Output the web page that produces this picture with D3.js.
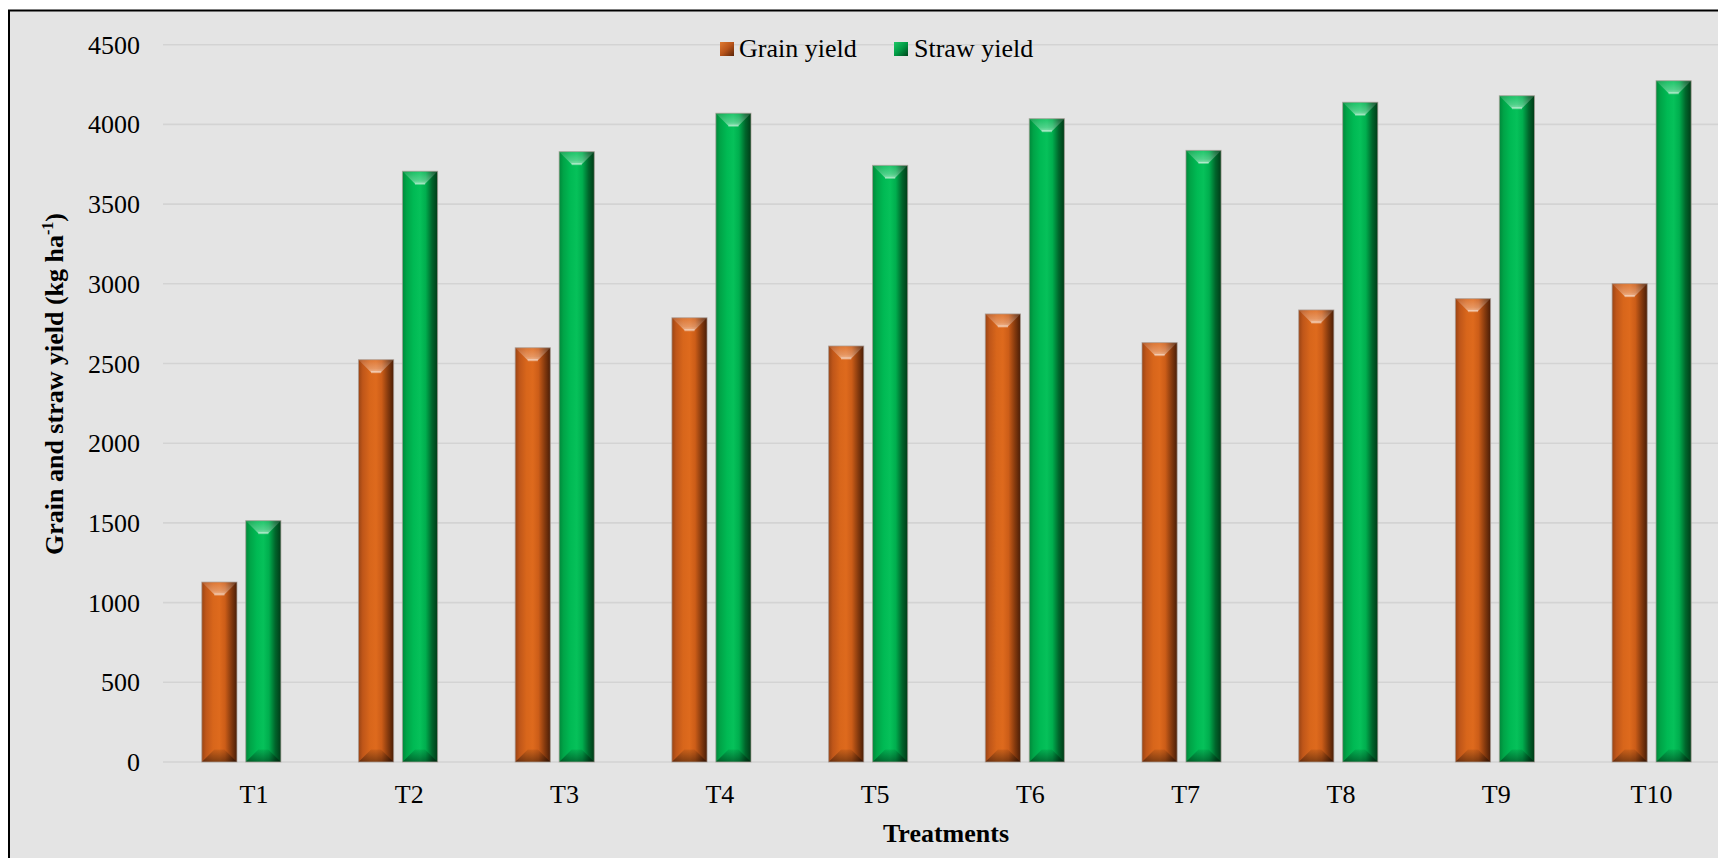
<!DOCTYPE html>
<html>
<head>
<meta charset="utf-8">
<script src="https://cdn.jsdelivr.net/npm/d3@7"></script>
<style>
  html, body { margin: 0; padding: 0; background: #ffffff; }
  svg { display: block; }
  text { font-family: "Liberation Serif", "Times New Roman", serif; fill: #000; }
</style>
</head>
<body>
<svg id="chart" width="1718" height="858"></svg>
<script>
// ---- data ----
const categories = ["T1", "T2", "T3", "T4", "T5", "T6", "T7", "T8", "T9", "T10"];
const seriesNames = ["Grain yield", "Straw yield"];
const grainYield = [1129, 2524, 2599, 2787, 2610, 2811, 2631, 2836, 2907, 3001];
const strawYield = [1514, 3706, 3829, 4070, 3743, 4036, 3837, 4139, 4180, 4274];
const yTicks = [0, 500, 1000, 1500, 2000, 2500, 3000, 3500, 4000, 4500];
const yTitle = "Grain and straw yield (kg ha";
const xTitle = "Treatments";

const svg = d3.select("#chart");
const W = 1718, H = 858;

// frame / background
svg.append("rect").attr("x", 0).attr("y", 0).attr("width", W).attr("height", H).attr("fill", "#ffffff");
svg.append("rect").attr("x", 9).attr("y", 10.5).attr("width", 1800).attr("height", 900)
  .attr("fill", "#e4e4e4").attr("stroke", "#000").attr("stroke-width", 2);

// scales
const plot = { left: 163, right: 1730, top: 44.7, bottom: 762 };
const y = d3.scaleLinear().domain([0, 4500]).range([plot.bottom, plot.top]);
const x = d3.scaleBand().domain(categories).range([plot.left, plot.right]).paddingInner(0).paddingOuter(0);
const bw = x.bandwidth();
const xs = d3.scaleBand().domain(seriesNames).range([bw * 0.2476, bw * 0.7524]).paddingInner(0.2);
const xLabel = d3.scalePoint().domain(categories).range([253.5, 1651]);

// gradients
const defs = svg.append("defs");
function hGrad(id, stops) {
  const g = defs.append("linearGradient").attr("id", id).attr("x1", "0").attr("x2", "1").attr("y1", "0").attr("y2", "0");
  stops.forEach(s => g.append("stop").attr("offset", s[0]).attr("stop-color", s[1]));
}
hGrad("gOrange", [[0, "#9a4414"], [0.12, "#bf5619"], [0.32, "#d8661b"], [0.5, "#de6a1d"], [0.66, "#cc5d18"], [0.84, "#853a0e"], [1, "#4a1d06"]]);
hGrad("gGreen", [[0, "#00883a"], [0.12, "#00a447"], [0.32, "#00ba54"], [0.5, "#06c15a"], [0.66, "#00ae4e"], [0.84, "#00652b"], [1, "#003b17"]]);
function vGrad(id, stops) {
  const g = defs.append("linearGradient").attr("id", id).attr("x1", "0").attr("x2", "0").attr("y1", "0").attr("y2", "1");
  stops.forEach(s => g.append("stop").attr("offset", s[0]).attr("stop-color", s[1][0]).attr("stop-opacity", s[1][1]));
}
vGrad("topHi", [[0, ["#ffffff", 0.1]], [0.7, ["#ffffff", 0.3]], [1, ["#ffffff", 0.5]]]);
vGrad("botLo", [[0, ["#000000", 0.08]], [1, ["#000000", 0.42]]]);
const legGradO = defs.append("linearGradient").attr("id", "legO").attr("x1", "0").attr("y1", "0").attr("x2", "1").attr("y2", "1");
legGradO.append("stop").attr("offset", 0).attr("stop-color", "#e07a30");
legGradO.append("stop").attr("offset", 0.5).attr("stop-color", "#b8541a");
legGradO.append("stop").attr("offset", 1).attr("stop-color", "#5a2408");
const legGradG = defs.append("linearGradient").attr("id", "legG").attr("x1", "0").attr("y1", "0").attr("x2", "1").attr("y2", "1");
legGradG.append("stop").attr("offset", 0).attr("stop-color", "#20c868");
legGradG.append("stop").attr("offset", 0.5).attr("stop-color", "#009a44");
legGradG.append("stop").attr("offset", 1).attr("stop-color", "#00451c");

// gridlines
svg.append("g").selectAll("line").data(yTicks).join("line")
  .attr("x1", plot.left).attr("x2", W)
  .attr("y1", d => y(d)).attr("y2", d => y(d))
  .attr("stroke", "#d3d3d3").attr("stroke-width", 1.6);

// y axis labels
const yAxis = d3.axisLeft(y).tickValues(yTicks).tickSize(0).tickPadding(0).tickFormat(d3.format("d"));
const yg = svg.append("g").attr("transform", "translate(140,0)").call(yAxis);
yg.select(".domain").remove();
yg.selectAll("text").attr("font-size", 26).attr("font-family", "Liberation Serif").attr("fill", "#000").attr("dy", "0.33em");

// x axis labels
const xAxis = d3.axisBottom(xLabel).tickSize(0).tickPadding(0);
const xg = svg.append("g").attr("transform", "translate(0,803)").call(xAxis);
xg.select(".domain").remove();
xg.selectAll("text").attr("font-size", 26).attr("font-family", "Liberation Serif").attr("fill", "#000").attr("dy", "0");

// bars
const rows = categories.map((c, i) => ({ cat: c, values: [
  { s: seriesNames[0], v: grainYield[i], grad: "gOrange" },
  { s: seriesNames[1], v: strawYield[i], grad: "gGreen" }
]}));
const groups = svg.append("g").selectAll("g").data(rows).join("g")
  .attr("transform", d => `translate(${x(d.cat)},0)`);
const bars = groups.selectAll("g").data(d => d.values).join("g");
bars.each(function(d) {
  const g = d3.select(this);
  const x0 = xs(d.s), w = xs.bandwidth();
  const y0 = y(d.v), y1 = y(0);
  const b = 12.5;
  g.append("rect").attr("x", x0).attr("y", y0).attr("width", w).attr("height", y1 - y0)
    .attr("fill", `url(#${d.grad})`);
  // top bevel
  g.append("polygon")
    .attr("points", [[x0, y0], [x0 + w, y0], [x0 + w - b, y0 + b], [x0 + b, y0 + b]].map(p => p.join(",")).join(" "))
    .attr("fill", "url(#topHi)");
  g.append("line").attr("x1", x0 + b).attr("x2", x0 + w - b).attr("y1", y0 + b).attr("y2", y0 + b)
    .attr("stroke", "#ffffff").attr("stroke-opacity", 0.4).attr("stroke-width", 2);
  // bottom bevel
  g.append("polygon")
    .attr("points", [[x0, y1], [x0 + w, y1], [x0 + w - b, y1 - b], [x0 + b, y1 - b]].map(p => p.join(",")).join(" "))
    .attr("fill", "url(#botLo)");
  g.append("rect").attr("x", x0).attr("y", y0).attr("width", w).attr("height", y1 - y0)
    .attr("fill", "none").attr("stroke", "#a89c96").attr("stroke-opacity", 0.7).attr("stroke-width", 1);
});

// legend
const legend = [
  { name: seriesNames[0], fill: "url(#legO)", mx: 720, tx: 739 },
  { name: seriesNames[1], fill: "url(#legG)", mx: 894, tx: 914 }
];
const lg = svg.append("g");
legend.forEach(l => {
  lg.append("rect").attr("x", l.mx).attr("y", 42).attr("width", 14).attr("height", 14).attr("fill", l.fill);
  lg.append("text").attr("x", l.tx).attr("y", 57).attr("font-size", 26).text(l.name);
});

// axis titles
svg.append("text").attr("x", 946).attr("y", 842).attr("text-anchor", "middle")
  .attr("font-size", 26).attr("font-weight", "bold").text(xTitle);
const yt = svg.append("text").attr("transform", "translate(63,384) rotate(-90)")
  .attr("text-anchor", "middle").attr("font-size", 26).attr("font-weight", "bold");
yt.append("tspan").text(yTitle);
yt.append("tspan").attr("font-size", 16).attr("dy", -10).text("-1");
yt.append("tspan").attr("dy", 10).text(")");
</script>
</body>
</html>
